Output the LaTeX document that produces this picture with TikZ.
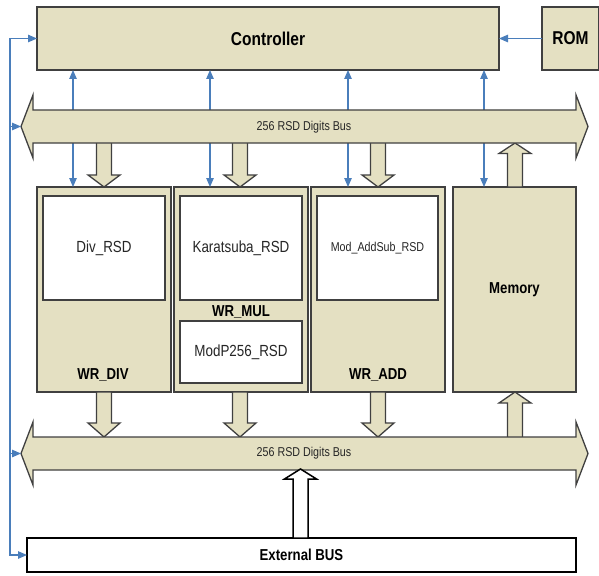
\documentclass[tikz,border=0pt]{standalone}
\usepackage{graphicx}
\usepackage{fontspec}
\setmainfont{Liberation Sans}
\usetikzlibrary{arrows.meta}
\definecolor{beige}{RGB}{228,224,194}
\definecolor{edgecol}{RGB}{64,64,64}
\definecolor{lnk}{RGB}{74,126,187}
\newcommand\vst[1]{\scalebox{1}[1.2]{#1}}
% fat block arrow: #1 x centre, #2 shaft end y, #3 head base y, #4 tip y, #5 style
\newcommand\fatpoly[5]{%
  \draw[#5] (#1-7.5,#2) -- (#1-7.5,#3) -- (#1-16,#3) -- (#1,#4) -- (#1+16,#3)
    -- (#1+7.5,#3) -- (#1+7.5,#2) -- cycle;}
% bus double arrow, #1 centre y
\newcommand\buspoly[1]{%
  \draw[busst] (21,#1) -- (33,#1-31.5) -- (33,#1-16.5) -- (576,#1-16.5) -- (576,#1-31.5)
    -- (588,#1) -- (576,#1+31.5) -- (576,#1+16.5) -- (33,#1+16.5) -- (33,#1+31.5) -- cycle;}
\begin{document}
\begin{tikzpicture}[x=1pt,y=-1pt,
  >={Triangle[length=9pt,width=7.5pt]},
  blk/.style={draw=edgecol, fill=beige, line width=1.3pt, inner sep=0pt, outer sep=0pt, anchor=north west},
  inbox/.style={draw=edgecol, fill=white, line width=1.3pt, inner sep=0pt, outer sep=0pt, anchor=north west},
  extbox/.style={draw=black, fill=white, line width=1.5pt, inner sep=0pt, outer sep=0pt, anchor=north west},
  txt/.style={inner sep=0pt, text=black},
  bigb/.style={font=\fontsize{15.5}{18}\selectfont\bfseries},
  midb/.style={font=\fontsize{13.2}{16}\selectfont\bfseries},
  midr/.style={font=\fontsize{13.4}{16}\selectfont, text=black!85},
  smallr/.style={font=\fontsize{10.7}{13}\selectfont, text=black!85},
  link/.style={draw=lnk, line width=1.1pt},
  fat/.style={draw=edgecol, fill=beige, line width=1.3pt, line join=miter},
  fatw/.style={draw=black, fill=white, line width=1.5pt, line join=miter},
  busst/.style={draw=edgecol, fill=beige, line width=1.3pt, line join=miter}
]
\useasboundingbox (0,0) rectangle (599,575);
\fill[white] (0,0) rectangle (599,575);

% main blocks
\node[blk, bigb, minimum width=462pt, minimum height=63pt] (ctrl) at (37,7) {\vst{Controller}};
\node[blk, bigb, minimum width=57pt, minimum height=63pt] (rom) at (542,7) {\vst{ROM}};
\node[blk, minimum width=134pt, minimum height=205pt] (wrdiv) at (37,187) {};
\node[blk, minimum width=134pt, minimum height=205pt] (wrmul) at (174,187) {};
\node[blk, minimum width=134pt, minimum height=205pt] (wradd) at (311,187) {};
\node[blk, midb, minimum width=123pt, minimum height=205pt] (mem) at (453,187) {\vst{Memory}};

\node[inbox, midr, minimum width=122pt, minimum height=104pt] (div) at (43,196) {\vst{Div\_RSD}};
\node[inbox, midr, minimum width=122pt, minimum height=104pt] (kara) at (180,196) {\vst{Karatsuba\_RSD}};
\node[inbox, midr, minimum width=122pt, minimum height=62pt] (modp) at (180,321) {\vst{ModP256\_RSD}};
\node[inbox, smallr, minimum width=121pt, minimum height=104pt] (addsub) at (317,196) {\vst{Mod\_AddSub\_RSD}};

\node[txt, midb] (ldiv) at (103,375) {\vst{WR\_DIV}};
\node[txt, midb] (lmul) at (241,312) {\vst{WR\_MUL}};
\node[txt, midb] (ladd) at (378,375) {\vst{WR\_ADD}};

\node[extbox, midb, minimum width=549pt, minimum height=34pt] (ext) at (27,538) {\vst{External BUS}};

% controller <-> block links (pass behind the bus)
\coordinate (v1) at (73,0);
\coordinate (v2) at (210,0);
\coordinate (v3) at (348,0);
\coordinate (v4) at (484,0);
\draw[link,<->] (ctrl.south -| v1) -- (wrdiv.north -| v1);
\draw[link,<->] (ctrl.south -| v2) -- (wrmul.north -| v2);
\draw[link,<->] (ctrl.south -| v3) -- (wradd.north -| v3);
\draw[link,<->] (ctrl.south -| v4) -- (mem.north -| v4);

% fat arrows between buses and blocks
\fatpoly{104}{140}{175}{187}{fat}
\fatpoly{240}{140}{175}{187}{fat}
\fatpoly{378}{140}{175}{187}{fat}
\fatpoly{515}{187}{153.5}{143}{fat}
\fatpoly{104}{392}{423}{437}{fat}
\fatpoly{240}{392}{423}{437}{fat}
\fatpoly{378}{392}{423}{437}{fat}
\fatpoly{515}{440}{403}{392}{fat}

% buses
\buspoly{126.5}
\buspoly{453.5}
\coordinate (tbtip) at (21,126.5);
\coordinate (bbtip) at (21,453.5);
\node[txt, smallr] (tblabel) at (304,127) {\vst{256 RSD Digits Bus}};
\node[txt, smallr] (bblabel) at (304,453.5) {\vst{256 RSD Digits Bus}};

% external bus arrow
\fatpoly{300.5}{538}{479}{469}{fatw}

% blue trunk on the left
\coordinate (trunk) at (10,0);
\draw[link,->] (ctrl.west -| trunk) -- (ctrl.west);
\draw[link,->] (ctrl.west -| trunk) -- (ext.west -| trunk) -- (ext.west);
\draw[link,->] (tbtip -| trunk) -- (tbtip);
\draw[link,->] (bbtip -| trunk) -- (bbtip);
\draw[link,->] (rom.west) -- (ctrl.east);
\end{tikzpicture}
\end{document}
